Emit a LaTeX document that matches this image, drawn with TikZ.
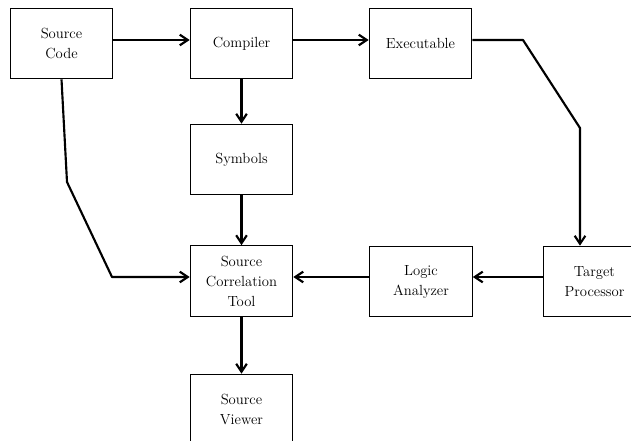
\documentclass[tikz,border=0pt]{standalone}
\usepackage{tikz}
\usetikzlibrary{arrows.meta}

\begin{document}
\begin{tikzpicture}[x=0.75pt,y=-0.75pt,
	block/.style={shape=rectangle,draw=black,line width=0.7pt,minimum width=77pt,minimum height=53pt,inner sep=1pt,align=center,font=\fontsize{11}{15}\selectfont},
	flow/.style={-{Straight Barb[length=6pt,width=8pt,line width=1.6pt]},line width=1.6pt,line join=round}]
			\clip (0,0) rectangle (631,440);
			\node[block] (src) at (61.5,43.5) {Source\\Code};
			\node[block] (comp) at (241.5,43.5) {Compiler};
			\node[block] (exe) at (420.5,43.5) {Executable};
			\node[block] (sym) at (241.5,159.5) {Symbols};
			\node[block] (corr) at (241.5,281) {Source\\Correlation\\Tool};
			\node[block] (logic) at (421,281.5) {Logic\\Analyzer};
			\node[block] (target) at (594.5,281.5) {Target\\Processor};
			\node[block] (view) at (241.5,409.5) {Source\\Viewer};

			%% bends
			\coordinate (src1) at (67,182);
			\coordinate (src2) at (112,277);
			\coordinate (exe1) at (523,40);
			\coordinate (exe2) at (580,128);

			%% lines
			\draw[flow] (src.east |- 0,40) -- (comp.west |- 0,40);
			\draw[flow] (comp.east |- 0,40) -- (exe.west |- 0,40);
			\draw[flow] (exe.east |- exe1) -- (exe1) -- (exe2) -- (exe2 |- target.north);
			\draw[flow] (comp) -- (sym);
			\draw[flow] (sym) -- (corr);
			\draw[flow] (src.south) -- (src1) -- (src2) -- (src2 -| corr.west);
			\draw[flow] (target.west |- src2) -- (logic.east |- src2);
			\draw[flow] (logic.west |- src2) -- (corr.east |- src2);
			\draw[flow] (corr) -- (view);
		\end{tikzpicture}
\end{document}
